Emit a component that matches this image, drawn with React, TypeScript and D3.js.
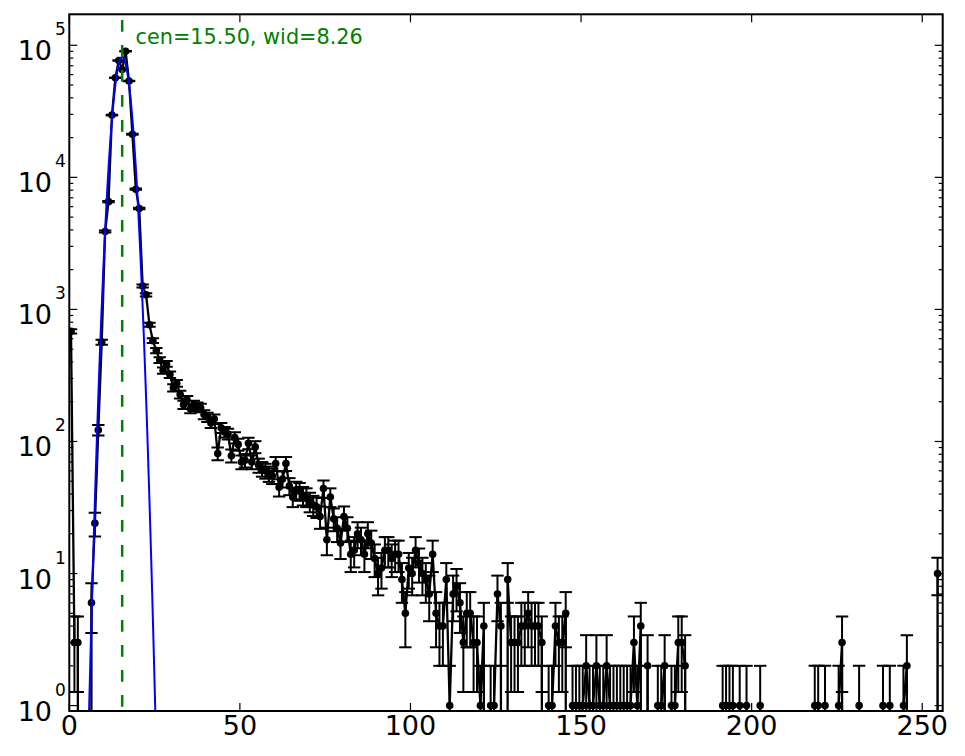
import React, { useEffect, useRef } from 'react'
import * as d3 from 'd3'

// counts per bin, bin i is centred on i + 0.5
const counts: number[] = [
  682, 3, 3, 0, 0, 0, 6, 24, 122, 565,
  3890, 6550, 29600, 56700, 76700, 65600, 90200, 53600, 21200, 8130,
  5800, 1503, 1290, 766, 580, 488, 414, 344, 387, 321,
  255, 276, 227, 190, 207, 177, 190, 184, 180, 160,
  153, 138, 148, 81, 127, 118, 114, 78, 107, 95,
  70, 72, 97, 70, 91, 66, 62, 60, 57, 55,
  68, 45, 52, 68, 46, 38, 43, 42, 39, 38,
  35, 33, 32, 27, 44, 18, 38, 26, 22, 17,
  27, 22, 14, 15, 20, 18, 14, 20, 17, 13,
  10, 11, 15, 15, 13, 14, 14, 9, 5, 11,
  10, 15, 12, 10, 9, 7, 14, 5, 4, 4,
  9, 1, 7, 8, 6, 3, 5, 5, 3, 3,
  1, 4, 0, 1, 1, 7, 4, 0, 9, 3,
  3, 3, 4, 4, 5, 4, 4, 4, 3, 0,
  1, 1, 4, 3, 3, 5, 0, 1, 1, 1,
  1, 2, 1, 1, 2, 1, 1, 2, 1, 1,
  1, 1, 1, 1, 1, 3, 1, 4, 0, 2,
  0, 0, 1, 1, 2, 0, 1, 1, 3, 3,
  2, 0, 0, 0, 0, 0, 0, 0, 0, 0,
  0, 1, 1, 1, 1, 0, 1, 0, 1, 0,
  0, 0, 1, 0, 0, 0, 0, 0, 0, 0,
  0, 0, 0, 0, 0, 0, 0, 0, 1, 1,
  0, 1, 0, 0, 0, 1, 3, 0, 0, 0,
  0, 1, 0, 0, 0, 0, 0, 0, 1, 0,
  1, 0, 0, 0, 1, 2, 0, 0, 0, 0,
  0, 0, 0, 0, 10, 0,
]

const xTicks = [0, 50, 100, 150, 200, 250]
const yTickExps = [0, 1, 2, 3, 4, 5]

// gaussian fit: amp * exp(-(x - cen)^2 / wid)
const fitCen = 15.5
const fitWid = 8.26
const fitAmp = 81600
const fitLabel = 'cen=15.50, wid=8.26'

function App() {
  const refSvg = useRef<SVGSVGElement>(null)
  const width = 965
  const height = 756
  const left = 69.3
  const right = 942.7
  const top = 14.3
  const bottom = 711

  const draw = () => {
    const svg = d3.select(refSvg.current)
    svg.selectAll('*').remove()

    const x = d3.scaleLinear().domain([0, 256]).range([left, right])
    const y = d3.scaleLog().domain([0.91, 171700]).range([bottom, top])
    // zero counts fall far below the axes, like matplotlib's nonpos clip
    const yv = (v: number) => (v > 0 ? y(v) : bottom + 5000)

    svg.append('rect').attr('width', width).attr('height', height).attr('fill', '#fff')
    svg.append('clipPath').attr('id', 'plot-clip')
      .append('rect')
      .attr('x', left).attr('y', top)
      .attr('width', right - left).attr('height', bottom - top)

    const plot = svg.append('g').attr('clip-path', 'url(#plot-clip)')
    const pts = counts.map((c, i) => ({ bx: i + 0.5, c }))

    // error bars
    const err = plot.append('g').attr('stroke', '#000').attr('stroke-width', 2)
    pts.filter((d) => d.c > 0).forEach((d) => {
      const s = Math.sqrt(d.c)
      const lo = d.c - s
      const hi = d.c + s
      const px = x(d.bx)
      err.append('line').attr('x1', px).attr('x2', px).attr('y1', yv(lo)).attr('y2', yv(hi))
      err.append('line').attr('x1', px - 6.2).attr('x2', px + 6.2).attr('y1', yv(hi)).attr('y2', yv(hi))
      if (lo > 0) {
        err.append('line').attr('x1', px - 6.2).attr('x2', px + 6.2).attr('y1', yv(lo)).attr('y2', yv(lo))
      }
    })

    // connecting line
    plot.append('path')
      .datum(pts)
      .attr('fill', 'none')
      .attr('stroke', '#000')
      .attr('stroke-width', 2.3)
      .attr('d', d3.line<{ bx: number; c: number }>().x((d) => x(d.bx)).y((d) => yv(d.c)))

    // markers
    plot.append('g')
      .selectAll('circle')
      .data(pts.filter((d) => d.c > 0))
      .join('circle')
      .attr('cx', (d) => x(d.bx))
      .attr('cy', (d) => y(d.c))
      .attr('r', 3.8)
      .attr('fill', '#000')

    // fit curve
    const fitX = d3.range(0, 256, 0.05).filter((v) => fitAmp * Math.exp(-((v - fitCen) ** 2) / fitWid) > 1e-12)
    plot.append('path')
      .datum(fitX)
      .attr('fill', 'none')
      .attr('stroke', '#0000ff')
      .attr('stroke-width', 2)
      .attr('d', d3.line<number>().x((v) => x(v)).y((v) => y(fitAmp * Math.exp(-((v - fitCen) ** 2) / fitWid))))

    // centre marker
    plot.append('line')
      .attr('x1', x(fitCen)).attr('x2', x(fitCen))
      .attr('y1', bottom).attr('y2', top)
      .attr('stroke', '#008000')
      .attr('stroke-width', 2.5)
      .attr('stroke-dasharray', '11.7 13.3')
      .attr('stroke-dashoffset', 20.7)

    svg.append('text')
      .attr('x', 135.5).attr('y', 44)
      .attr('fill', '#008000')
      .attr('font-family', 'DejaVu Sans')
      .attr('font-size', 20.8)
      .text(fitLabel)

    // ticks, inward on all four sides
    const ticks = svg.append('g').attr('stroke', '#000').attr('stroke-width', 1.2)
    xTicks.forEach((t) => {
      const px = x(t)
      ticks.append('line').attr('x1', px).attr('x2', px).attr('y1', bottom).attr('y2', bottom - 8)
      ticks.append('line').attr('x1', px).attr('x2', px).attr('y1', top).attr('y2', top + 8)
    })
    yTickExps.forEach((e) => {
      const py = y(Math.pow(10, e))
      ticks.append('line').attr('x1', left).attr('x2', left + 8).attr('y1', py).attr('y2', py)
      ticks.append('line').attr('x1', right).attr('x2', right - 8).attr('y1', py).attr('y2', py)
      for (let m = 2; m <= 9; m++) {
        const v = m * Math.pow(10, e)
        if (v > 171700) continue
        const my = y(v)
        ticks.append('line').attr('x1', left).attr('x2', left + 4).attr('y1', my).attr('y2', my)
        ticks.append('line').attr('x1', right).attr('x2', right - 4).attr('y1', my).attr('y2', my)
      }
    })

    // tick labels
    const labels = svg.append('g').attr('font-family', 'DejaVu Sans').attr('fill', '#000')
    xTicks.forEach((t) => {
      labels.append('text')
        .attr('x', x(t)).attr('y', 735)
        .attr('text-anchor', 'middle')
        .attr('font-size', 27)
        .text(String(t))
    })
    yTickExps.forEach((e) => {
      const py = y(Math.pow(10, e))
      labels.append('text')
        .attr('x', 52).attr('y', py + 15)
        .attr('text-anchor', 'end')
        .attr('font-size', 27)
        .text('10')
      labels.append('text')
        .attr('x', 55).attr('y', py - 10)
        .attr('font-size', 17)
        .text(String(e))
    })

    // frame
    svg.append('rect')
      .attr('x', left).attr('y', top)
      .attr('width', right - left).attr('height', bottom - top)
      .attr('fill', 'none')
      .attr('stroke', '#000')
      .attr('stroke-width', 2)
  }

  useEffect(() => {
    if (refSvg.current) {
      draw()
    }
  }, [])

  return (
    <svg
      ref={refSvg}
      width={width}
      height={height}
      style={{ position: 'absolute', left: 0, top: 0 }}
    />
  )
}

export default App
